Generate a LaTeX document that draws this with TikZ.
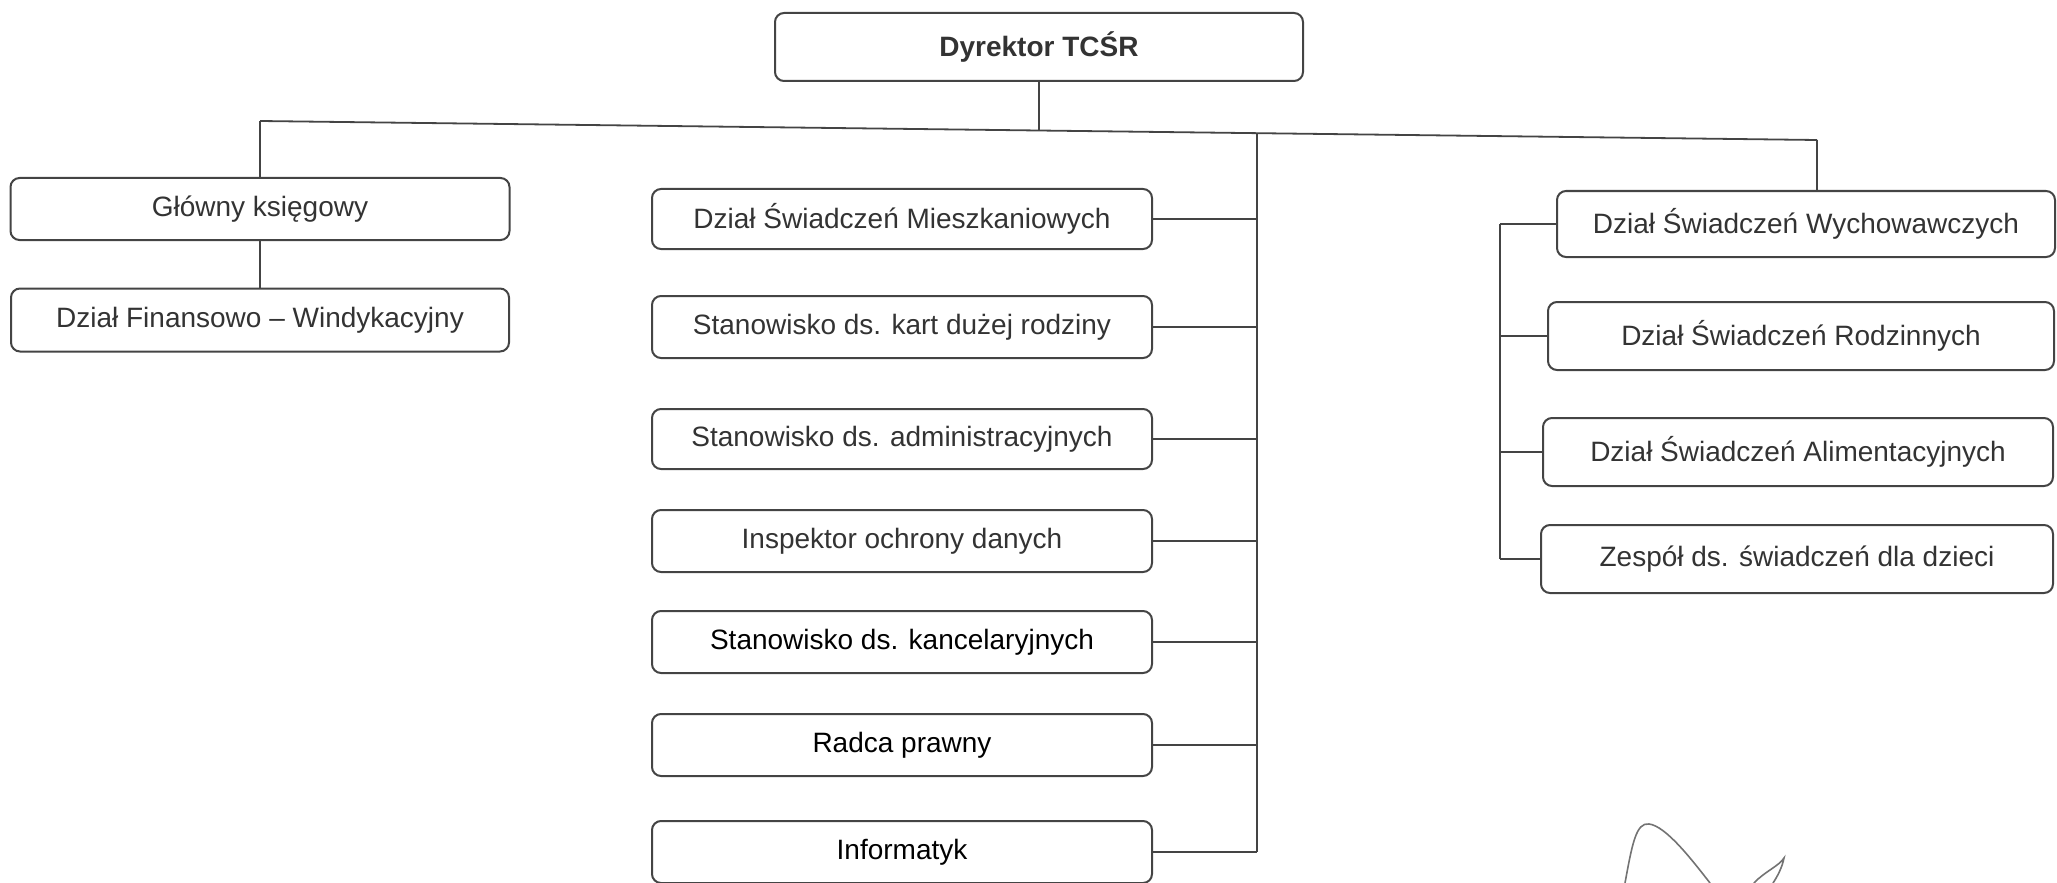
\documentclass[tikz,border=0pt]{standalone}
\usepackage{fontspec}
\setmainfont{Liberation Sans}
\definecolor{ink}{HTML}{333333}
\definecolor{frame}{HTML}{444444}
\begin{document}
\begin{tikzpicture}[x=0.5pt,y=-0.5pt,
  box/.style={draw=frame, line width=1pt, rounded corners=4.5pt, fill=white,
    text=ink, font=\fontsize{14}{16}\selectfont, inner sep=0pt},
  link/.style={draw=frame, line width=0.9pt},
  sig/.style={draw=black!55, line width=0.8pt, line cap=round}]
\useasboundingbox (0,0) rectangle (2057,883);
% top
\node[box, font=\bfseries\fontsize{14}{16}\selectfont, minimum width=264pt, minimum height=34pt] (dyr) at (1039,47) {Dyrektor TCŚR};
% left column
\node[box, minimum width=249.5pt, minimum height=31pt] (glow) at (260,209) {Główny księgowy};
\node[box, minimum width=249pt, minimum height=31.5pt] (fin) at (260,320) {Dział Finansowo – Windykacyjny};
% middle column
\node[box, minimum width=250pt, minimum height=30pt] (m1) at (902,219) {Dział Świadczeń Mieszkaniowych};
\node[box, minimum width=250pt, minimum height=31pt] (m2) at (902,327) {Stanowisko ds. kart dużej rodziny};
\node[box, minimum width=250pt, minimum height=30pt] (m3) at (902,439) {Stanowisko ds. administracyjnych};
\node[box, minimum width=250pt, minimum height=31pt] (m4) at (902,541) {Inspektor ochrony danych};
\node[box, minimum width=250pt, minimum height=31pt, text=black] (m5) at (902,642) {Stanowisko ds. kancelaryjnych};
\node[box, minimum width=250pt, minimum height=31pt, text=black] (m6) at (902,745) {Radca prawny};
\node[box, minimum width=250pt, minimum height=31pt, text=black] (m7) at (902,852) {Informatyk};
% right column
\node[box, minimum width=249pt, minimum height=33pt] (r1) at (1806,224) {Dział Świadczeń Wychowawczych};
\node[box, minimum width=253pt, minimum height=34pt] (r2) at (1801,336) {Dział Świadczeń Rodzinnych};
\node[box, minimum width=255pt, minimum height=34pt] (r3) at (1798,452) {Dział Świadczeń Alimentacyjnych};
\node[box, minimum width=256pt, minimum height=34pt] (r4) at (1797,559) {Zespół ds. świadczeń dla dzieci};
% bus (slightly slanted as in the scan)
\coordinate (busL) at (260,121);
\coordinate (busR) at (1817,140);
\coordinate (busD) at (1039,130.5);
\coordinate (mt) at (1257,133);
\coordinate (rt) at (1500,224);
\draw[link] (busL) -- (busR);
\draw[link] (dyr.south) -- (busD);
\draw[link] (busL) -- (glow.north);
\draw[link] (glow.south) -- (fin.north);
\draw[link] (busR) -- (busR |- r1.north);
% middle trunk
\draw[link] (mt) -- (mt |- m7.east);
\foreach \n in {m1,m2,m3,m4,m5,m6,m7}{
  \draw[link] (\n.east) -- (\n.east -| mt);
}
% right trunk
\draw[link] (rt) -- (rt |- r4.west);
\foreach \n in {r1,r2,r3,r4}{
  \draw[link] (\n.west) -- (\n.west -| rt);
}
% signature
\draw[sig] (1625,883) .. controls (1632,845) and (1636,822) .. (1649,824)
  .. controls (1666,826) and (1692,860) .. (1710,883);
\draw[sig] (1754,883) .. controls (1764,872) and (1779,866) .. (1784,858)
  .. controls (1782,868) and (1777,877) .. (1773,883);
\end{tikzpicture}
\end{document}
